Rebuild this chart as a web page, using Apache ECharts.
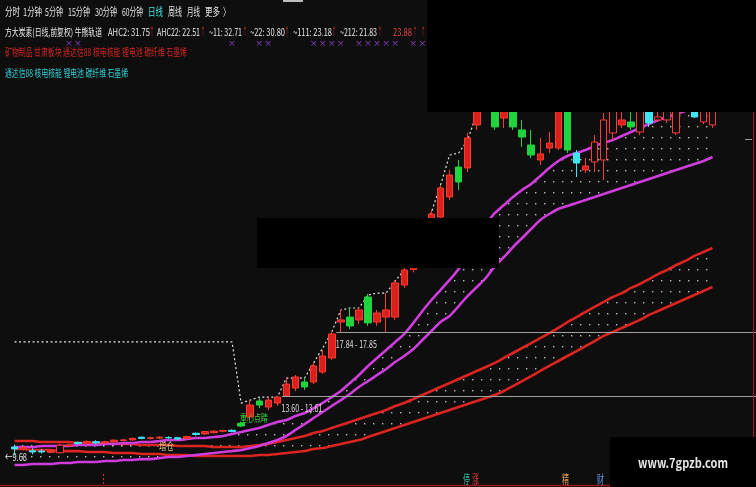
<!DOCTYPE html>
<html><head><meta charset="utf-8">
<script src="https://cdn.jsdelivr.net/npm/echarts@6/dist/echarts.min.js"></script>
<style>html,body{margin:0;padding:0;background:#0e0e0e;overflow:hidden}#c{width:756px;height:487px;}</style>
</head><body><div id="c"></div>
<script>
// ---- data: [open, close, low, high] ----
const ohlc = [
[10.23,10.10,9.68,10.40],[10.10,10.20,10.00,10.30],[9.98,9.90,9.75,10.15],[9.96,9.90,9.80,10.10],
[9.88,9.98,9.82,10.05],[9.85,10.35,9.80,10.45],[10.30,10.36,10.25,10.45],[10.54,10.46,10.38,10.60],
[10.50,10.60,10.45,10.66],[10.58,10.50,10.42,10.68],[10.50,10.58,10.45,10.64],[10.58,10.68,10.52,10.74],
[10.66,10.70,10.60,10.78],[10.70,10.80,10.65,10.86],[10.88,10.80,10.74,10.92],[10.80,10.84,10.72,10.92],
[10.82,10.88,10.76,10.95],[10.86,10.84,10.78,10.94],[10.84,10.76,10.70,10.90],[10.80,10.92,10.76,10.98],
[11.14,11.06,10.98,11.18],[11.10,11.25,11.04,11.30],[11.18,11.28,11.12,11.35],[11.28,11.32,11.20,11.38],
[11.34,11.26,11.20,11.40],[11.80,11.62,11.55,11.90],[12.22,13.01,12.02,13.34],[13.28,13.01,12.81,13.48],
[12.88,13.34,12.68,13.54],[13.14,13.54,12.95,13.60],[13.61,14.40,13.61,14.80],[14.14,14.87,13.94,15.00],
[14.54,14.21,14.01,14.80],[14.54,15.60,14.40,15.86],[15.20,16.26,15.07,16.66],[16.13,17.72,16.00,17.84],
[18.51,18.65,17.85,19.31],[18.84,18.25,18.05,19.44],[18.65,19.31,18.38,19.51],[20.17,18.45,18.25,20.37],
[18.51,19.11,18.25,19.31],[18.84,19.31,17.85,20.43],[18.84,21.10,18.65,21.30],[20.96,21.96,20.77,22.09],
[22.00,22.90,21.80,23.10],[22.90,24.00,22.70,24.30],[24.10,25.67,23.90,25.93],[25.47,27.39,25.27,27.59],
[26.80,28.25,26.60,28.59],[28.78,27.79,27.26,29.25],[28.72,30.71,28.45,31.04],[31.57,32.89,31.24,33.22],
[32.90,33.80,32.60,34.50],[33.89,31.44,31.24,34.30],[32.03,32.69,31.37,33.30],[33.22,31.44,31.24,33.50],
[31.24,30.77,30.11,31.90],[30.24,29.58,29.38,31.24],[29.25,29.65,28.92,30.71],[30.04,30.37,29.71,31.10],
[30.04,33.22,29.91,33.60],[33.22,29.91,29.71,33.80],[29.71,29.05,28.12,29.91],[28.59,28.85,28.39,29.38],
[29.12,30.44,28.45,30.90],[29.25,31.90,27.92,32.36],[31.04,32.89,30.57,33.40],[31.57,31.90,31.37,32.56],
[31.77,31.44,31.24,33.22],[31.10,32.89,30.90,33.50],[33.22,31.70,31.44,33.60],[31.90,32.10,31.77,32.89],
[31.90,32.89,31.70,33.40],[31.04,32.89,30.90,33.50],[33.00,33.30,32.70,33.60],[33.22,32.10,32.03,33.50],
[31.77,32.69,31.63,33.20],[31.57,32.56,31.37,33.00]
];
const days = ohlc.map((d, i) => String(i + 1));

// 牛熊轨道: fast pair (magenta) and slow pair (red)
const fastUpper = [10.23,10.23,10.23,10.30,10.30,10.30,10.30,10.36,10.36,10.36,10.43,10.43,10.49,10.49,10.56,10.56,10.63,10.69,10.69,10.76,
10.83,10.83,10.89,10.96,11.09,11.22,11.36,11.49,11.69,11.89,12.02,12.28,12.48,12.81,13.15,13.54,13.94,14.47,15.00,15.60,
16.13,16.66,17.19,17.72,18.45,19.24,19.97,20.63,21.30,22.03,22.95,23.95,24.94,25.74,26.27,26.80,27.26,27.66,28.19,28.72,
29.18,29.51,29.71,29.91,30.18,30.38,30.57,30.84,31.10,31.37,31.63,31.90,32.10,32.30,32.50,32.70,32.83,32.96];
const fastLower = [9.04,9.04,9.10,9.10,9.10,9.17,9.17,9.24,9.24,9.24,9.30,9.30,9.37,9.37,9.43,9.43,9.50,9.57,9.57,9.63,
9.70,9.77,9.83,9.90,9.96,10.03,10.16,10.30,10.49,10.69,10.96,11.36,11.75,12.15,12.55,12.95,13.34,13.74,14.21,14.60,
15.00,15.40,15.86,16.26,16.72,17.32,17.92,18.51,18.91,19.57,20.24,20.83,21.43,22.22,22.82,23.48,24.08,24.68,25.27,25.67,
26.00,26.20,26.40,26.60,26.80,27.00,27.19,27.39,27.59,27.79,27.99,28.19,28.39,28.59,28.79,28.98,29.18,29.45];
const slowUpper = [10.63,10.63,10.63,10.56,10.56,10.56,10.56,10.49,10.49,10.49,10.49,10.43,10.43,10.43,10.36,10.36,10.36,10.36,10.30,10.30,
10.30,10.30,10.23,10.23,10.23,10.23,10.30,10.36,10.43,10.56,10.69,10.83,10.96,11.16,11.29,11.49,11.69,11.89,12.09,12.28,
12.48,12.68,12.95,13.15,13.41,13.68,13.94,14.21,14.47,14.74,15.00,15.27,15.53,15.80,16.13,16.46,16.79,17.12,17.45,17.78,
18.12,18.51,18.84,19.18,19.51,19.84,20.17,20.43,20.77,21.03,21.36,21.69,21.96,22.29,22.56,22.89,23.15,23.42];
const slowLower = [10.10,10.10,10.03,10.03,10.03,9.96,9.96,9.96,9.90,9.90,9.90,9.83,9.83,9.83,9.77,9.77,9.77,9.70,9.70,9.70,
9.63,9.63,9.63,9.63,9.63,9.63,9.63,9.70,9.70,9.77,9.83,9.90,9.96,10.10,10.16,10.30,10.43,10.56,10.69,10.89,
11.09,11.29,11.49,11.69,11.89,12.09,12.28,12.48,12.68,12.88,13.08,13.28,13.48,13.68,13.94,14.27,14.60,14.93,15.27,15.60,
15.93,16.26,16.59,16.92,17.25,17.59,17.85,18.12,18.38,18.65,18.98,19.24,19.51,19.77,20.04,20.30,20.57,20.83];
// dotted stop line
const stopLine = [17.19,17.19,17.19,17.19,17.19,17.19,17.19,17.19,17.19,17.19,17.19,17.19,17.19,17.19,17.19,17.19,17.19,17.19,17.19,17.19,
17.19,17.19,17.19,17.19,17.19,13.14,13.34,13.54,13.54,13.54,14.80,14.80,14.80,15.80,16.79,17.85,19.31,19.44,19.44,20.30,
20.43,20.43,21.23,21.96,22.95,24.28,25.80,27.59,29.58,29.71,30.57,32.36,33.56,null,null,null,null,null,null,null,
null,null,null,null,null,null,null,null,null,null,null,null,null,null,null,null,null,null];
const cyanIdx = [0,2,3,7,9,14,17,18,20,24,62,70,75];
const hollowIdx = [5,64,65,66,69,71,72,73,76,77];
const signalIdx = [6,7,24,27,28,33,34,35,36,38,39,40,41,42,44,45];
const gaps = [{idx:30, lo:13.60, hi:13.61}, {idx:36, lo:17.84, hi:17.85}];
const lowMark = {idx:0, value:9.68};
const menu = ['分时','1分钟','5分钟','15分钟','30分钟','60分钟','日线','周线','月线','更多','〉'];
const header = [['方大炭素(日线,前复权) 牛熊轨道',''],['AHC2: 31.75','↑'],['AHC22: 22.51','↑'],['~11: 32.71','↑'],['~22: 30.80','↑'],['~111: 23.18','↑'],['~212: 21.83','↑'],['23.88','↑']];
const tagsRed = '矿物制品 甘肃板块 通达信88 核电核能 锂电池 碳纤维 石墨烯';
const tagsCyan = '通达信88 核电核能 锂电池 碳纤维 石墨烯';

// ---- rendering ----
const BG = '#0e0e0e';
const chart = echarts.init(document.getElementById('c'), null, {renderer:'canvas'});

const pat = document.createElement('canvas');
pat.width = 9; pat.height = 11;
const pctx = pat.getContext('2d');
pctx.fillStyle = 'rgba(215,215,215,0.85)';
pctx.fillRect(4, 5, 1.4, 1.4);

const candleData = ohlc.map((d, i) => {
  const it = {value: d};
  if (cyanIdx.includes(i)) it.itemStyle = {color0:'#3fe6f2', borderColor0:'#3fe6f2'};
  if (hollowIdx.includes(i)) it.itemStyle = {color: BG, borderColor:'#ff3a3a'};
  return it;
});
const diff = (a, b) => a.map((v, i) => +(v - b[i]).toFixed(2));
const SM = 0.25;
const bandBase = (data, st) => ({type:'line', data, stack:st, symbol:'none', smooth:SM, silent:true, lineStyle:{opacity:0}, z:1});
const bandTop = (data, st) => ({type:'line', data, stack:st, symbol:'none', smooth:SM, silent:true, lineStyle:{opacity:0},
  areaStyle:{color:{image:pat, repeat:'repeat'}, opacity:1}, z:1});
const track = (data, color) => ({type:'line', data, symbol:'none', smooth:SM, silent:true, lineStyle:{color, width:2.6}, z:3});

chart.setOption({
  animation:false,
  backgroundColor: BG,
  grid:{left:10, right:39, top:0, bottom:0},
  xAxis:{type:'category', data:days, show:false, boundaryGap:true},
  yAxis:{type:'value', min:7.58, max:39.85, show:false, splitLine:{show:false}},
  series:[
    bandBase(fastLower, 'f'), bandTop(diff(fastUpper, fastLower), 'f'),
    bandBase(slowLower, 's'), bandTop(diff(slowUpper, slowLower), 's'),
    track(slowUpper, '#dc2420'), track(slowLower, '#dc2420'),
    track(fastUpper, '#cf3ddd'), track(fastLower, '#cf3ddd'),
    {type:'line', data:stopLine, symbol:'none', silent:true, connectNulls:false,
      lineStyle:{color:'#e6e6e6', width:1.2, type:[2,2.5]}, z:4},
    {type:'candlestick', data:candleData, barWidth:7, silent:true, z:5,
      itemStyle:{color:'#d9201b', color0:'#1fd43c', borderColor:'#ff3a30', borderColor0:'#1fd43c', borderWidth:1}}
  ]
});

const mctx = document.createElement('canvas').getContext('2d');
const FF = '"Noto Sans CJK SC", "Liberation Sans", sans-serif';
function fitText(str, x0, x1, yc, color, size, weight, z) {
  mctx.font = (weight || 'normal') + ' ' + size + 'px ' + FF;
  const w = mctx.measureText(str).width;
  return {type:'text', x:x0, y:yc, scaleX:(x1 - x0) / w, z:z || 50, silent:true,
    style:{text:str, fill:color, fontSize:size, fontFamily:FF, fontWeight:weight || 'normal', align:'left', verticalAlign:'middle'}};
}
const px = (i, v) => chart.convertToPixel({gridIndex:0}, [i, v]);
const g = [];

// menu row
const menuX = [[5,20],[23,42],[45,63],[68,90],[95,117],[122,143],[148,163],[168,182],[187,200],[205,220],[223,230]];
menu.forEach((m, k) => g.push(fitText(m, menuX[k][0], menuX[k][1], 12, m === '日线' ? '#3ee2e2' : '#e4e4e4', 11)));
g.push({type:'rect', shape:{x:283, y:0, width:20, height:2}, style:{fill:'#bdbdbd'}, z:50, silent:true});

// header row
const headX = [[5,102,0],[108,150,152],[157,200,203],[209,242,245],[250,285,287],[293,332,334],[340,377,380],[393,412,415]];
header.forEach((h, k) => {
  const col = k === header.length - 1 ? '#e04a44' : '#e6e6e6';
  g.push(fitText(h[0], headX[k][0], headX[k][1], 32, col, 10));
  if (h[1]) g.push(fitText(h[1], headX[k][2] - 2, headX[k][2] + 2, 32, '#e0302a', 11));
});
g.push(fitText('↑', 421, 425, 32, '#e0302a', 11));
g.push(fitText(tagsRed, 5, 187, 52.5, '#d42424', 10));
g.push(fitText(tagsCyan, 5, 128, 73, '#33cfd6', 10));

// signal marks
signalIdx.forEach(i => {
  const p = px(i, 20);
  g.push({type:'text', x:p[0], y:43, z:50, silent:true,
    style:{text:'×', fill:'#a244e6', fontSize:8, fontFamily:FF, align:'center', verticalAlign:'middle'}});
});

// gap lines & labels
gaps.forEach(gp => {
  const p = px(gp.idx, gp.hi);
  const y = Math.round(p[1]) + 0.5;
  g.push({type:'line', shape:{x1:p[0] - 4.5, y1:y, x2:756, y2:y}, style:{stroke:'#a0a0a0', lineWidth:1}, z:40, silent:true});
  g.push(fitText(gp.lo.toFixed(2) + ' - ' + gp.hi.toFixed(2), p[0] - 5, p[0] + 36, p[1] + 12, '#dcdcdc', 10, 'normal', 41));
});

// low mark
const lp = px(lowMark.idx, lowMark.value);
g.push(fitText('←' + lowMark.value.toFixed(2), 5, 27, lp[1] + 2, '#e8e8e8', 11, 'normal', 45));

// annotations
g.push(fitText('重心点睛', 240, 268, 418, '#3ccc3c', 10, 'normal', 45));
g.push(fitText('增仓', 159, 174, 446, '#e0cf86', 10, 'normal', 45));

// borders and ticks
g.push({type:'line', shape:{x1:753.5, y1:0, x2:753.5, y2:487}, style:{stroke:'#a21c1c', lineWidth:1}, z:40, silent:true});
g.push({type:'line', shape:{x1:0, y1:485.5, x2:756, y2:485.5}, style:{stroke:'#8e1a1a', lineWidth:1.5}, z:40, silent:true});
g.push({type:'line', shape:{x1:745, y1:139.5, x2:752, y2:139.5}, style:{stroke:'#9a9a9a', lineWidth:1}, z:40, silent:true});
g.push({type:'line', shape:{x1:103.5, y1:474, x2:103.5, y2:485}, style:{stroke:'#d03030', lineWidth:1, lineDash:[2,2]}, z:40, silent:true});
g.push(fitText('停', 463, 470, 479, '#2fbcaa', 12, 'normal', 45));
g.push(fitText('涨', 472, 479, 479, '#e03a3a', 12, 'normal', 45));
g.push(fitText('精', 562, 569, 479, '#e2a45a', 12, 'normal', 45));
g.push(fitText('财', 597, 604, 479, '#5f98e6', 12, 'normal', 45));

// cover boxes
g.push({type:'rect', shape:{x:427, y:0, width:329, height:112}, style:{fill:'#000'}, z:60, silent:true});
g.push({type:'rect', shape:{x:257, y:218, width:242, height:50}, style:{fill:'#000'}, z:60, silent:true});
g.push({type:'rect', shape:{x:610, y:437, width:146, height:50}, style:{fill:'#000'}, z:60, silent:true});
g.push(fitText('www.7gpzb.com', 638, 728, 463, '#e6e6e6', 13, 'bold', 70));

chart.setOption({graphic: g});
</script>
</body></html>
